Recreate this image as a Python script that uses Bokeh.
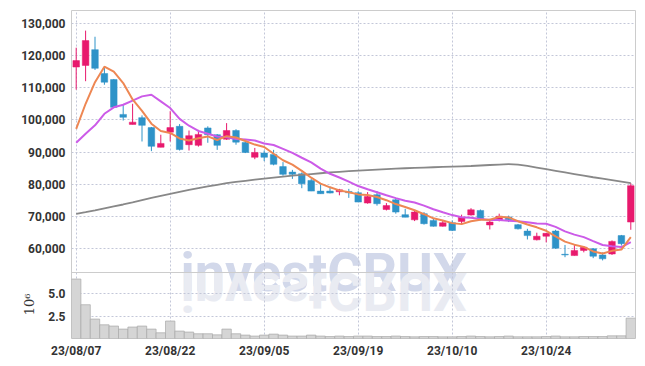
import urllib.parse
from bokeh.plotting import figure
from bokeh.models import (ColumnDataSource, FixedTicker, Range1d, NumeralTickFormatter,
                          Span, LinearAxis)
from bokeh.embed import file_html
from bokeh.resources import INLINE
from bokeh.core.properties import value

# ---------------- data ----------------
dates = [
    "23/08/07", "23/08/08", "23/08/09", "23/08/10", "23/08/11", "23/08/14", "23/08/16", "23/08/17",
    "23/08/18", "23/08/21", "23/08/22", "23/08/23", "23/08/24", "23/08/25", "23/08/28", "23/08/29",
    "23/08/30", "23/08/31", "23/09/01", "23/09/04", "23/09/05", "23/09/06", "23/09/07", "23/09/08",
    "23/09/11", "23/09/12", "23/09/13", "23/09/14", "23/09/15", "23/09/18", "23/09/19", "23/09/20",
    "23/09/21", "23/09/22", "23/09/25", "23/09/26", "23/09/27", "23/10/04", "23/10/05", "23/10/06",
    "23/10/10", "23/10/11", "23/10/12", "23/10/13", "23/10/16", "23/10/17", "23/10/18", "23/10/19",
    "23/10/20", "23/10/23", "23/10/24", "23/10/25", "23/10/26", "23/10/27", "23/10/30", "23/10/31",
    "23/11/01", "23/11/02", "23/11/03", "23/11/06",
]

opens = [116400, 116900, 121800, 114400, 112500, 101700, 98600, 100700, 97600, 91500,
         96200, 98000, 92300, 92100, 97500, 95400, 94000, 96700, 93000, 88400,
         89700, 89300, 85500, 83800, 83300, 81200, 77900, 77900, 77700, 77800,
         77400, 74200, 76800, 72200, 75200, 70600, 69000, 70900, 68800, 67000,
         68100, 68500, 70500, 71900, 67400, 68800, 69900, 67500, 65500, 62800,
         63900, 65500, 58300, 57900, 59500, 60000, 58100, 58400, 64100, 68300]
highs = [122400, 127700, 125800, 116400, 112700, 104900, 105000, 101400, 97800, 95400,
         102700, 98700, 96700, 96900, 98000, 95600, 99000, 97100, 93100, 91300,
         90500, 90700, 86900, 84500, 83700, 81700, 80000, 79300, 78600, 78600,
         77900, 77600, 77900, 74200, 75800, 72400, 71900, 71400, 69300, 68800,
         68800, 70600, 72600, 72200, 69300, 70900, 70300, 67700, 66200, 65000,
         64900, 65900, 61200, 61400, 60800, 60200, 58900, 62600, 64300, 80400]
lows = [109400, 112000, 115500, 110900, 103800, 99800, 98600, 93300, 90300, 91500,
        93300, 90500, 90500, 91700, 92900, 90700, 93800, 92300, 89700, 87800,
        87200, 85900, 82700, 81700, 78800, 77900, 77100, 77200, 76600, 75800,
        74500, 74000, 73400, 71900, 70900, 69800, 68600, 67500, 66900, 66900,
        65500, 67500, 70300, 68800, 66000, 68500, 68300, 66000, 62900, 62600,
        62000, 60000, 57400, 57900, 58900, 57100, 56400, 58100, 61000, 65900]
closes = [118400, 124600, 116000, 111700, 103900, 100800, 99300, 98300, 91800, 92700,
          97600, 90800, 95100, 95500, 95400, 92100, 96700, 93100, 89900, 89900,
          88400, 86200, 83100, 83100, 80200, 77900, 77100, 77300, 78300, 77400,
          74500, 76200, 74000, 73400, 71400, 69800, 71400, 67800, 67000, 68100,
          65700, 69800, 72100, 69300, 68300, 70100, 69000, 66200, 64100, 63900,
          64800, 60200, 58100, 59500, 60500, 57700, 56900, 62300, 61600, 79600]

ma5 = [97200, 105000, 111700, 116500, 114944, 111424, 106354, 102798, 98826, 96574,
       95936, 94242, 93602, 94328, 94868, 93768, 94946, 94550, 93434, 92336,
       91592, 89484, 87478, 86112, 84170, 82060, 80240, 79080, 78130, 77570,
       76888, 76720, 76062, 75088, 73884, 72952, 71978, 70736, 69452, 68794,
       67968, 67658, 68528, 68986, 69024, 69912, 69750, 68570, 67534, 66666,
       65594, 63832, 62218, 61288, 60606, 59196, 58538, 59364, 59780, 63608]
ma10 = [92900, 95700, 98300, 101900, 103900, 104700, 106000, 107300, 107800, 105759,
        103680, 100298, 98200, 96577, 95721, 94852, 94594, 94076, 93881, 93602,
        92680, 92215, 91014, 89773, 88253, 86826, 84862, 83279, 82121, 80870,
        79474, 78480, 77571, 76609, 75727, 74920, 74349, 73399, 72270, 71339,
        70460, 69818, 69632, 69219, 68909, 68940, 68704, 68549, 68260, 67845,
        67753, 66791, 65394, 64411, 63636, 62395, 61185, 60791, 60534, 62107]
ma_long = [70860, 71400, 71950, 72550, 73150, 73750, 74400, 75100, 75800, 76450,
           77050, 77650, 78250, 78800, 79350, 79850, 80350, 80750, 81100, 81450,
           81800, 82100, 82400, 82700, 82950, 83200, 83450, 83700, 83900, 84100,
           84250, 84400, 84550, 84700, 84850, 85000, 85100, 85200, 85300, 85400,
           85500, 85600, 85700, 85850, 86000, 86150, 86300, 86100, 85700, 85200,
           84700, 84200, 83700, 83200, 82700, 82200, 81750, 81300, 80850, 80400]

volumes_m = [6.64, 3.77, 2.17, 1.53, 1.39, 1.05, 1.28, 1.39, 1.05, 0.64,
             1.95, 0.83, 0.72, 0.53, 0.53, 0.41, 1.05, 0.53, 0.38, 0.27,
             0.38, 0.49, 0.38, 0.27, 0.27, 0.38, 0.27, 0.22, 0.27, 0.22,
             0.27, 0.27, 0.22, 0.22, 0.27, 0.22, 0.19, 0.22, 0.22, 0.19,
             0.19, 0.22, 0.27, 0.22, 0.19, 0.22, 0.27, 0.19, 0.19, 0.19,
             0.22, 0.27, 0.19, 0.19, 0.22, 0.22, 0.22, 0.30, 0.30, 2.27]

price_ticks = [60000, 70000, 80000, 90000, 100000, 110000, 120000, 130000]
volume_ticks = [2.5, 5.0]
volume_unit_label = "10\u2076"
date_tick_step = 10
watermark = "investCRUX"

# ---------------- layout / styles ----------------
PRICE_LO, PRICE_HI = 52650, 133940      # visible price window (upper panel)
VOL_HI = 7.37                           # visible volume window top (lower panel)
PRICE_H, VOL_H = 262, 66                # panel heights in px
FRAME_H = PRICE_H + VOL_H
UNIT_LABEL_AT = 3.8                     # vertical position of the unit label (volume units)
UP = "#e8196d"
DOWN = "#2e93c8"
GRID = "#c3c7d8"
FONT = "Roboto"
LABEL_COLOR = "#333333"

n = len(dates)
idx = list(range(n))
src = ColumnDataSource(dict(
    x=idx, open=opens, high=highs, low=lows, close=closes,
    top=[max(o, c) for o, c in zip(opens, closes)],
    bottom=[min(o, c) for o, c in zip(opens, closes)],
    color=[UP if c >= o else DOWN for o, c in zip(opens, closes)],
    vol=volumes_m, ma5=ma5, ma10=ma10, ma_long=ma_long,
))

# one frame split into a price panel (top) and a volume panel (bottom)
y_start = PRICE_LO - (PRICE_HI - PRICE_LO) * VOL_H / PRICE_H
y_range = Range1d(y_start, PRICE_HI)
vol_range = Range1d(0, VOL_HI * FRAME_H / VOL_H)


def vol_to_price(vv):
    return round(y_range.start + (vv - vol_range.start) * (y_range.end - y_range.start)
                 / (vol_range.end - vol_range.start))


vol_tick_pos = [vol_to_price(t) for t in volume_ticks]
left_ticks = vol_tick_pos + price_ticks
date_ticks = idx[::date_tick_step]

p = figure(x_range=Range1d(-0.5, n - 0.5), y_range=y_range,
           extra_y_ranges={"vol": vol_range},
           frame_width=564, frame_height=FRAME_H,
           min_border_left=71, min_border_right=8, min_border_top=10, min_border_bottom=4,
           output_backend="svg", toolbar_location=None, tools="")
p.outline_line_color = "#cccccc"
p.background_fill_color = "white"
p.border_fill_color = "white"
p.grid.grid_line_color = GRID
p.grid.grid_line_dash = "2 2"
p.grid.grid_line_width = 1
p.xgrid.ticker = FixedTicker(ticks=date_ticks)
p.ygrid.ticker = FixedTicker(ticks=left_ticks)

for ax in (p.yaxis[0], p.xaxis[0]):
    ax.axis_line_color = None
    ax.major_tick_line_color = None
    ax.minor_tick_line_color = None
    ax.major_tick_out = 0
    ax.major_tick_in = 0
    ax.minor_tick_out = 0
    ax.major_label_text_font = FONT
    ax.major_label_text_font_style = "bold"
    ax.major_label_text_font_size = "12px"
    ax.major_label_text_color = LABEL_COLOR

p.yaxis.ticker = FixedTicker(ticks=left_ticks)
p.yaxis.formatter = NumeralTickFormatter(format="0,0")
p.yaxis.major_label_overrides = {pos: f"{t:.1f}" for pos, t in zip(vol_tick_pos, volume_ticks)}
p.yaxis.major_label_standoff = 6

p.xaxis.ticker = FixedTicker(ticks=date_ticks)
p.xaxis.major_label_overrides = {i: dates[i] for i in date_ticks}
p.xaxis.major_label_standoff = 5

# watermark and its reflection
wm_x = 11.1
p.text(x=[wm_x], y=[PRICE_LO], text=[watermark], text_font=value(FONT), text_font_style="bold",
       text_font_size="54px", text_color="#d2d8ea", text_baseline="alphabetic",
       text_align="left", level="image")
svg = ('<svg xmlns="http://www.w3.org/2000/svg" width="300" height="48">'
       '<text x="0" y="0" transform="scale(1,-1)" font-family="Roboto" font-weight="bold" '
       'font-size="54" fill="#e9ebf2">' + watermark + '</text></svg>')
uri = "data:image/svg+xml;charset=utf-8," + urllib.parse.quote(svg)
p.image_url(url=[uri], x=wm_x, y=PRICE_LO, w=300, h=48, w_units="screen", h_units="screen",
            anchor="top_left", level="image")

# volume panel
p.vbar(x="x", width=1.0, top="vol", bottom=0, fill_color="#d5d5d5",
       line_color="#a9a9a9", line_width=0.7, source=src, y_range_name="vol")

# candles + moving averages
p.segment(x0="x", y0="high", x1="x", y1="low", line_color="color", line_width=1, source=src)
p.vbar(x="x", width=0.7, top="top", bottom="bottom", fill_color="color",
       line_color="color", line_width=0.5, source=src)
p.line("x", "ma_long", line_color="#888888", line_width=1.8, source=src)
p.line("x", "ma10", line_color="#cc5be8", line_width=2, source=src)
p.line("x", "ma5", line_color="#ee8753", line_width=2, source=src)

# panel separator
p.add_layout(Span(location=PRICE_LO, dimension="width", line_color="#cccccc", line_width=1))

# volume unit label: an outer axis on the volume range carrying one vertical label
unit_axis = LinearAxis(y_range_name="vol", ticker=FixedTicker(ticks=[UNIT_LABEL_AT]),
                       axis_line_color=None, major_tick_line_color=None,
                       minor_tick_line_color=None, major_tick_out=0, major_tick_in=0,
                       minor_tick_out=0,
                       major_label_overrides={UNIT_LABEL_AT: volume_unit_label},
                       major_label_orientation="vertical",
                       major_label_standoff=-19,
                       major_label_text_font="DejaVu Serif",
                       major_label_text_font_size="13px",
                       major_label_text_color=LABEL_COLOR)
p.add_layout(unit_axis, "left")

open("out.html", "w").write(file_html(p, INLINE))
